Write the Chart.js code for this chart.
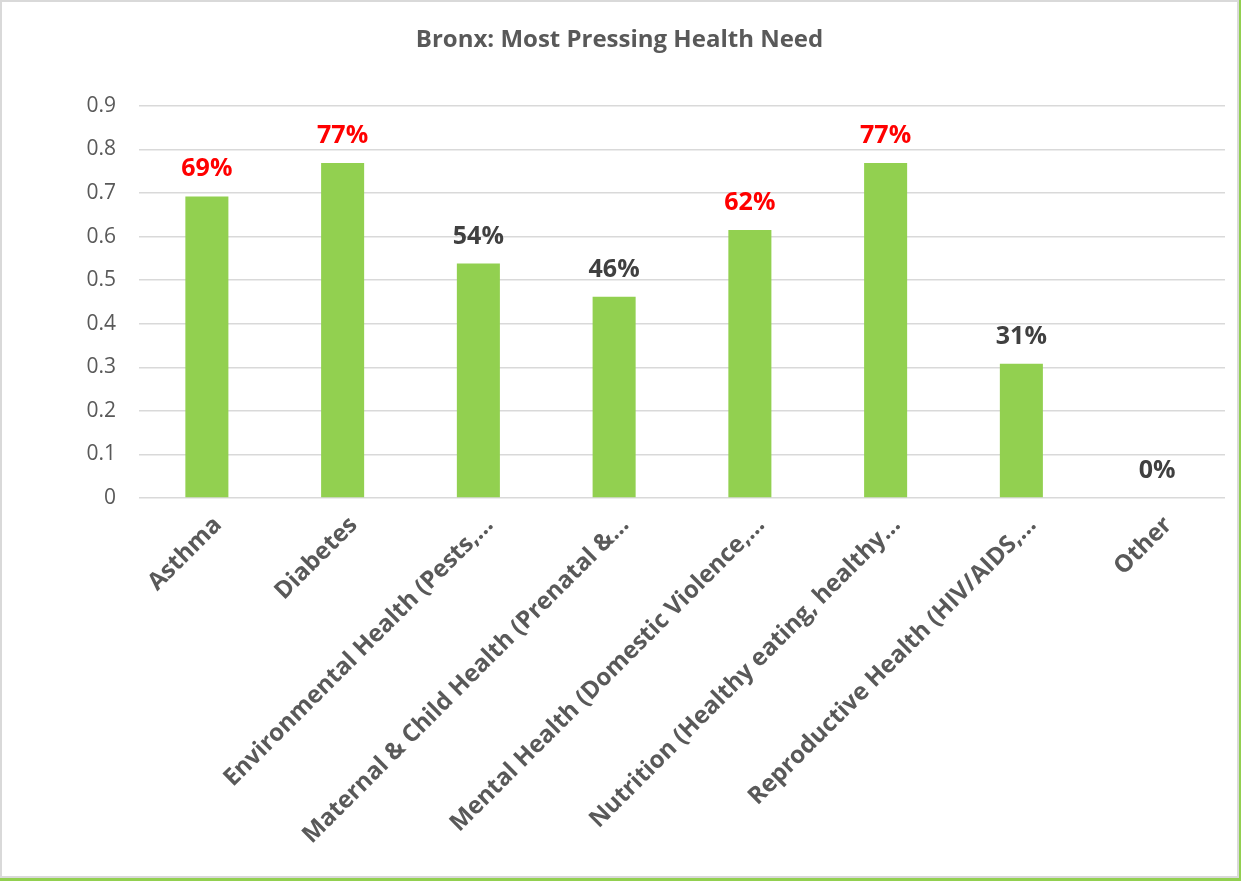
<!DOCTYPE html>
<html>
<head>
<meta charset="utf-8">
<script src="https://cdn.jsdelivr.net/npm/chart.js@4"></script>
<style>
  html, body { margin: 0; padding: 0; background: #fff; }
  #outer { width: 1241px; height: 881px; box-sizing: border-box; border-right: 2px solid #92d050; border-bottom: 3px solid #92d050; }
  #frame { width: 100%; height: 100%; box-sizing: border-box; border: 2px solid #d9d9d9; position: relative; }
</style>
</head>
<body>
<div id="outer"><div id="frame"><canvas id="bar"></canvas></div></div>
<script>
const categories = [
  'Asthma',
  'Diabetes',
  'Environmental Health (Pests,…',
  'Maternal & Child Health (Prenatal &…',
  'Mental Health (Domestic Violence,…',
  'Nutrition (Healthy eating, healthy…',
  'Reproductive Health (HIV/AIDS,…',
  'Other'
];
const shares = [0.692, 0.769, 0.538, 0.462, 0.615, 0.769, 0.308, 0];
const shareLabels = ['69%', '77%', '54%', '46%', '62%', '77%', '31%', '0%'];
const labelColors = ['#ff0000', '#ff0000', '#404040', '#404040', '#ff0000', '#ff0000', '#404040', '#404040'];
const yTicks = [0, 0.1, 0.2, 0.3, 0.4, 0.5, 0.6, 0.7, 0.8, 0.9];

// draws the percent labels above each bar
const valueLabels = {
  id: 'valueLabels',
  afterDatasetsDraw(chart) {
    const ctx = chart.ctx;
    const meta = chart.getDatasetMeta(0);
    ctx.save();
    ctx.font = 'bold 25px "Open Sans"';
    ctx.textAlign = 'center';
    ctx.textBaseline = 'alphabetic';
    meta.data.forEach((bar, i) => {
      ctx.fillStyle = labelColors[i];
      ctx.fillText(shareLabels[i], bar.x, bar.y - 20);
    });
    ctx.restore();
  }
};

let config = {
  type: 'bar',
  data: {
    labels: categories,
    datasets: [{
      data: shares,
      backgroundColor: '#92d050',
      barPercentage: 0.317,
      categoryPercentage: 1
    }]
  },
  options: {
    responsive: true,
    maintainAspectRatio: false,
    animation: false,
    layout: { padding: { left: 12, right: 12, top: 0, bottom: 0 } },
    plugins: {
      legend: { display: false },
      tooltip: { enabled: false },
      title: {
        display: true,
        text: 'Bronx: Most Pressing Health Need',
        color: '#595959',
        font: { family: 'Open Sans', size: 24, weight: 'bold' },
        padding: { top: 24, bottom: 51 }
      }
    },
    scales: {
      x: {
        grid: { display: false },
        border: { display: false },
        afterFit(axis) { axis.height = 378; },
        ticks: {
          color: '#595959',
          font: { family: 'Open Sans', size: 24, weight: 'bold' },
          minRotation: 45,
          maxRotation: 45,
          autoSkip: false,
          padding: 5,
          labelOffset: 11
        }
      },
      y: {
        min: 0,
        max: 0.9,
        afterBuildTicks(axis) { axis.ticks = yTicks.map(v => ({ value: v })); },
        afterFit(axis) { axis.width = 125; },
        grid: { color: '#d9d9d9', lineWidth: 1.5, drawTicks: false },
        border: { display: false },
        ticks: {
          color: '#595959',
          font: { family: 'Open Sans', size: 21 },
          padding: 23,
          callback: v => String(Math.round(v * 10) / 10)
        }
      }
    }
  },
  plugins: [valueLabels]
};

let ctx = document.getElementById('bar').getContext('2d');
window.myBar = new Chart(ctx, config);
</script>
</body>
</html>
